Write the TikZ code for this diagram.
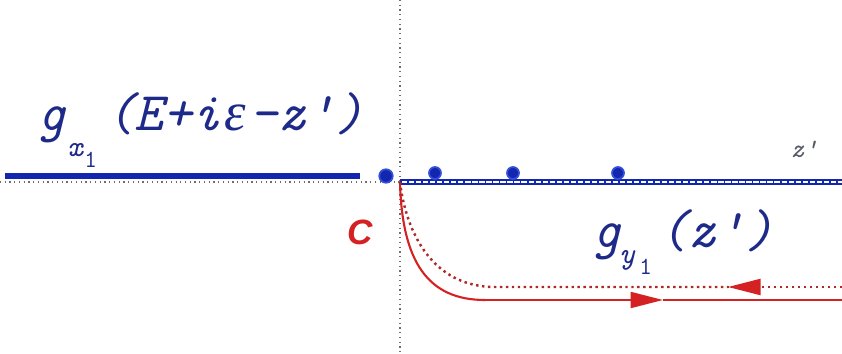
\documentclass[tikz,border=0pt]{standalone}
\usepackage{fontspec}
\setmainfont{Liberation Serif}
\newfontfamily\epsfont{Liberation Serif}
\newfontfamily\arialfont{Liberation Sans}
\usetikzlibrary{arrows.meta}
\definecolor{ink}{HTML}{1E2A8A}
\definecolor{cutblue}{HTML}{1226B0}
\definecolor{poleblue}{HTML}{3550D8}
\definecolor{axisgray}{HTML}{6E6E6E}
\definecolor{contourred}{HTML}{D42222}
\definecolor{backred}{HTML}{B02828}
\definecolor{muted}{HTML}{555A66}
\newcommand\eps{\makebox[16.3pt]{\epsfont\itshape ε}}

\begin{document}
\begin{tikzpicture}[
  x=0.02cm, y=-0.02cm,
  label/.style={anchor=base west,inner sep=0pt,text=ink,font=\ttfamily\itshape\fontsize{31}{36}\selectfont},
  sub/.style={anchor=base west,inner sep=0pt,text=ink,font=\ttfamily\itshape\fontsize{17}{20}\selectfont},
  subsub/.style={anchor=base west,inner sep=0pt,text=ink,font=\ttfamily\fontsize{14}{16}\selectfont},
  axis/.style={draw=axisgray,dotted,line width=0.7pt},
  cut/.style={draw=cutblue,line width=3.2pt},
  pole/.style={circle,fill=cutblue,draw=poleblue,line width=1pt,inner sep=0pt,minimum size=0.27cm},
  contour/.style={draw=contourred,line width=1.2pt},
  back/.style={draw=backred,line width=1.4pt,dotted},
  tip/.style={-{Triangle[length=6.5mm,width=3.2mm]}}
]
\useasboundingbox (0,0) rectangle (842,354);

% axes
\coordinate (O) at (400,182);
\draw[axis] (400,0) -- (400,354);
\draw[axis] (0,182) -- (842,182);

% cuts and poles
\draw[cut] (5,176) -- (360,176);
\draw[cut] (O) -- (842,182);
\draw[white,line width=0.7pt,dash pattern=on 3pt off 1pt] (402,182) -- (842,182);
\node[pole] (p0) at (386,176) {};
\foreach \x/\n in {435/p1,513/p2,618/p3}
  \node[pole,minimum size=0.24cm] (\n) at (\x,173) {};

% labels
\node[label] (gx) at (37,131) {g};
\node[sub] (gxsub) at (67,157) {x};
\node[subsub] (gxone) at (84,168) {1};
\node[label] (gxarg) at (106,131) {(E+i\eps–z')};

\node[label] (gy) at (592,248) {g};
\node[sub] (gysub) at (619,264) {y};
\node[subsub] (gyone) at (639,275) {1};
\node[label] (gyarg) at (659,248) {(z')};

\node[anchor=base west,inner sep=0pt,text=muted,font=\ttfamily\itshape\fontsize{15}{18}\selectfont] (zp) at (790,158) {z'};
\node[anchor=base west,inner sep=0pt,text=contourred,font=\arialfont\bfseries\itshape\fontsize{20}{24}\selectfont] (cc) at (347,245) {C};

% contour
\coordinate (A) at (485,300);
\coordinate (B) at (495,287);
\coordinate (M) at (663,300);
\coordinate (N) at (728,287);
\draw[contour] (O) .. controls (402,262) and (428,300) .. (A);
\draw[contour,tip] (A) -- (M);
\draw[contour] (M) -- (842,300);
\draw[back] (O) .. controls (406,232) and (432,287) .. (B) -- (N);
\draw[back] (842,287) -- (N);
\draw[draw=contourred,line width=1.2pt,tip] (755,287) -- (N);
\end{tikzpicture}
\end{document}
